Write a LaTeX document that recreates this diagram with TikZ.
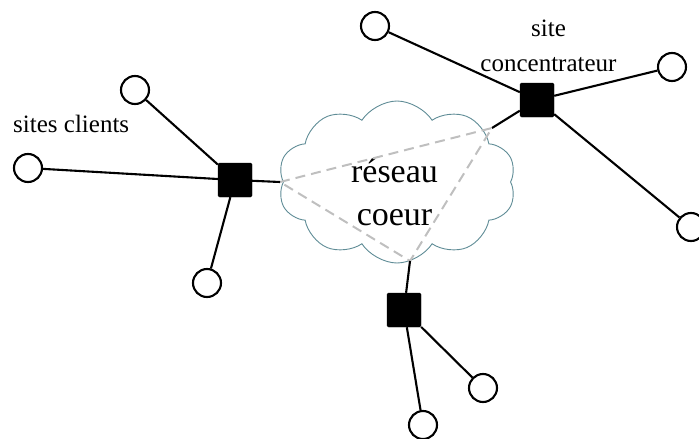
\documentclass[tikz,border=0pt]{standalone}
\usepackage{fontspec}
\setmainfont{Liberation Serif}
\usepackage{tikz}
\usetikzlibrary{shapes,arrows}
\usepackage{xcolor}
\definecolor{cloudLine}{RGB}{95,140,150}

\begin{document}
\begin{tikzpicture}[
  x=1pt,y=-1pt,
  clientSite/.style={draw,line width=2.1pt,circle,fill=white,minimum size=28pt,inner sep=0pt},
  hubSite/.style={draw,fill=black,rectangle,rounded corners=1.5pt,minimum size=34pt,inner sep=0pt},
  coreNet/.style={draw=cloudLine,line width=0.9pt,cloud,cloud puffs=10,cloud puff arc=115,aspect=1.5,minimum width=238pt,minimum height=162pt,inner sep=0pt},
  siteLabel/.style={inner sep=0pt,font=\fontsize{25}{35}\selectfont},
  coreLabel/.style={inner sep=0pt,font=\fontsize{34}{43}\selectfont},
  siteToHub/.style={-,line width=2.1pt,black},
  hubToCore/.style={-,line width=2.1pt,black},
  coreLink/.style={-,line width=2pt,gray!50,dash pattern=on 10pt off 6pt},
  every node/.style={align=center}]

  \useasboundingbox (0,0) rectangle (699,439);

  % the core network
  \node[coreNet] (core) at (397,182) {};
  \node[coreLabel] (coreText) at (394.5,192) {r\'eseau\\coeur};
  \coordinate (coreW) at (280,182);
  \coordinate (coreNE) at (492,128);
  \coordinate (coreS) at (410,261);
  \draw [coreLink] (coreW) -- (coreNE) -- (coreS) -- cycle;

  % hubs
  \node[hubSite] (hubL) at (235,180) {};
  \node[hubSite] (hubT) at (537,100) {};
  \node[hubSite] (hubB) at (404,310) {};

  % client sites
  \node[clientSite] (sL1) at (135,90) {};
  \node[clientSite] (sL2) at (28,168) {};
  \node[clientSite] (sL3) at (207,283) {};
  \node[clientSite] (sT1) at (375,26) {};
  \node[clientSite] (sT2) at (672,67) {};
  \node[clientSite] (sT3) at (691,227) {};
  \node[clientSite] (sB1) at (483,388) {};
  \node[clientSite] (sB2) at (423,425) {};

  % labels
  \node[siteLabel,anchor=base west] (lClients) at (13,132) {sites clients};
  \node[siteLabel] (lHub) at (548.5,46) {site\\concentrateur};

  % sites to hubs
  \draw [siteToHub] (sL1) -- (hubL);
  \draw [siteToHub] (sL2) -- (hubL);
  \draw [siteToHub] (sL3) -- (hubL);
  \draw [siteToHub] (sT1) -- (hubT);
  \draw [siteToHub] (sT2) -- (hubT);
  \draw [siteToHub] (sT3) -- (hubT);
  \draw [siteToHub] (sB1) -- (hubB);
  \draw [siteToHub] (sB2) -- (hubB);

  % hubs to core
  \draw [hubToCore] (hubL) -- (coreW);
  \draw [hubToCore] (hubT) -- (coreNE);
  \draw [hubToCore] (hubB) -- (coreS);
\end{tikzpicture}
\end{document}
